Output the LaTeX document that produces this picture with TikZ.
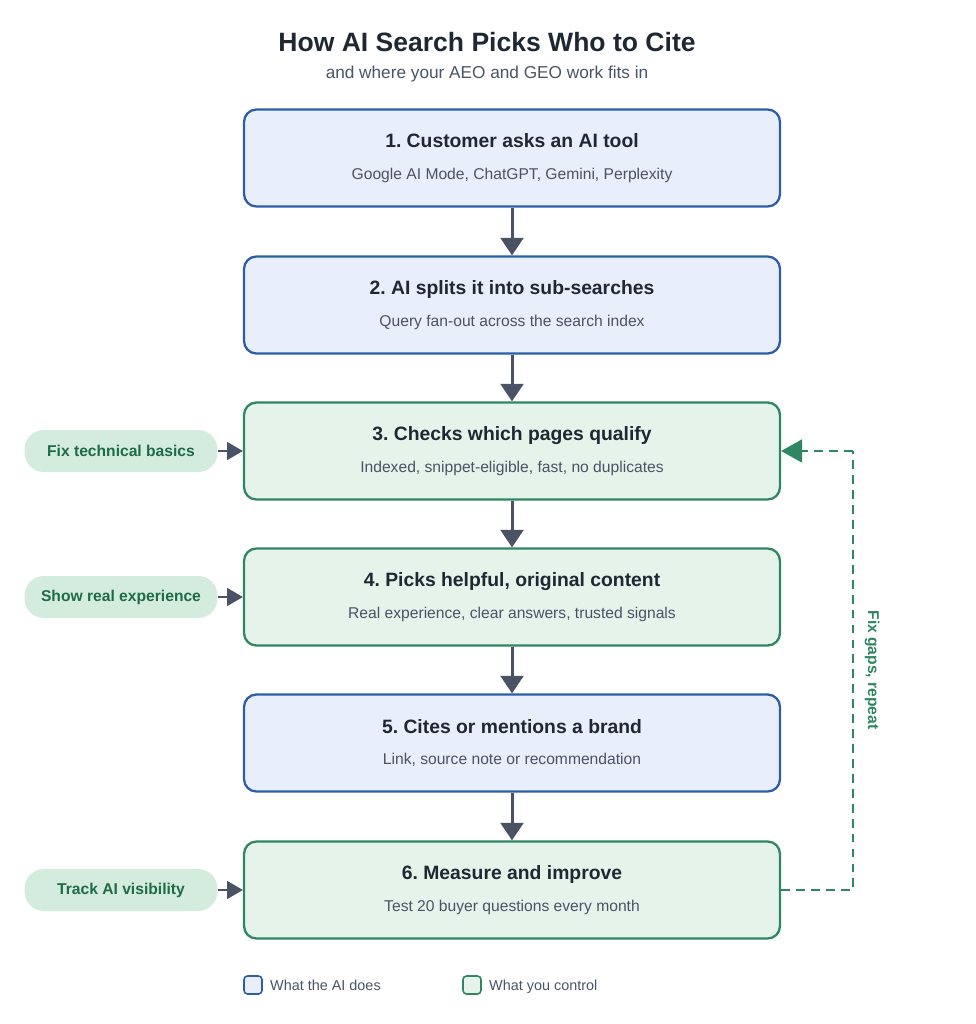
\documentclass[tikz,border=0pt]{standalone}
\usepackage{fontspec}
\setmainfont{Liberation Sans}
\usetikzlibrary{arrows.meta}
\frenchspacing
\definecolor{ailine}{HTML}{2E5DA8}
\definecolor{aifill}{HTML}{E8EFFA}
\definecolor{youline}{HTML}{2E8662}
\definecolor{youfill}{HTML}{E5F3EB}
\definecolor{pillfill}{HTML}{D3ECDE}
\definecolor{pilltext}{HTML}{1E6B45}
\definecolor{arrowgray}{HTML}{4A5366}
\definecolor{titletext}{HTML}{1F2733}
\definecolor{subtext}{HTML}{4A5366}
\tikzset{
  stepbox/.style={draw, rounded corners=7pt, line width=1.3pt, minimum width=10.72cm, minimum height=1.94cm},
  aistep/.style={stepbox, draw=ailine, fill=aifill},
  youstep/.style={stepbox, draw=youline, fill=youfill},
  pill/.style={fill=pillfill, rounded corners=11pt, minimum width=3.86cm, minimum height=0.84cm, text=pilltext, font=\fontsize{8.9}{10}\selectfont\bfseries},
  flow/.style={draw=arrowgray, line width=1.7pt, -{Triangle[length=10pt,width=13pt]}},
  side/.style={draw=arrowgray, line width=1.6pt, -{Triangle[length=9pt,width=10pt]}},
  loopline/.style={draw=youline, line width=1.6pt, dash pattern=on 5pt off 3.5pt},
  legendbox/.style={draw, rounded corners=2pt, line width=0.9pt, minimum size=0.36cm},
  legendtext/.style={anchor=west, text=subtext, font=\fontsize{8.2}{10}\selectfont, text height=6pt, text depth=1.5pt}
}
\newcommand{\steptext}[2]{{\fontsize{11}{13}\selectfont\bfseries\color{titletext}#1}\\[6pt]{\fontsize{8.9}{10}\selectfont\color{subtext}#2}}
\begin{document}
\begin{tikzpicture}[x=0.02cm, y=-0.02cm]
\useasboundingbox (0,0) rectangle (975,1024);

\node[font=\fontsize{15.1}{18}\selectfont\bfseries, text=titletext] (title) at (487,42) {How AI Search Picks Who to Cite};
\node[font=\fontsize{9.8}{11}\selectfont, text=subtext] (subtitle) at (487,74) {and where your AEO and GEO work fits in};

\node[aistep, align=center] (s1) at (512,158) {\steptext{1. Customer asks an AI tool}{Google AI Mode, ChatGPT, Gemini, Perplexity}};
\node[aistep, align=center] (s2) at (512,305) {\steptext{2. AI splits it into sub-searches}{Query fan-out across the search index}};
\node[youstep, align=center] (s3) at (512,451) {\steptext{3. Checks which pages qualify}{Indexed, snippet-eligible, fast, no duplicates}};
\node[youstep, align=center] (s4) at (512,597) {\steptext{4. Picks helpful, original content}{Real experience, clear answers, trusted signals}};
\node[aistep, align=center] (s5) at (512,743) {\steptext{5. Cites or mentions a brand}{Link, source note or recommendation}};
\node[youstep, align=center] (s6) at (512,890) {\steptext{6. Measure and improve}{Test 20 buyer questions every month}};

\draw[flow] (s1) -- (s2);
\draw[flow] (s2) -- (s3);
\draw[flow] (s3) -- (s4);
\draw[flow] (s4) -- (s5);
\draw[flow] (s5) -- (s6);

\node[pill] (p3) at (121,451) {Fix technical basics};
\node[pill] (p4) at (121,597) {Show real experience};
\node[pill] (p6) at (121,890) {Track AI visibility};
\draw[side] (p3) -- (s3);
\draw[side] (p4) -- (s4);
\draw[side] (p6) -- (s6);

% feedback loop
\coordinate (loopbot) at (853,890);
\coordinate (looptop) at (853,451);
\draw[loopline] (s6.east) -- (loopbot) -- (looptop);
\draw[loopline, -{Triangle[length=12pt,width=13pt]}] (looptop) -- (s3.east);
\node[rotate=-90, text=youline, font=\fontsize{8.9}{10}\selectfont\bfseries] (looplabel) at (872,670) {Fix gaps, repeat};

% legend
\node[legendbox, draw=ailine, fill=aifill] (lgai) at (253,985) {};
\node[legendtext] (lgaitext) at (264,987) {What the AI does};
\node[legendbox, draw=youline, fill=youfill] (lgyou) at (472,985) {};
\node[legendtext] (lgyoutext) at (483,987) {What you control};
\end{tikzpicture}
\end{document}
